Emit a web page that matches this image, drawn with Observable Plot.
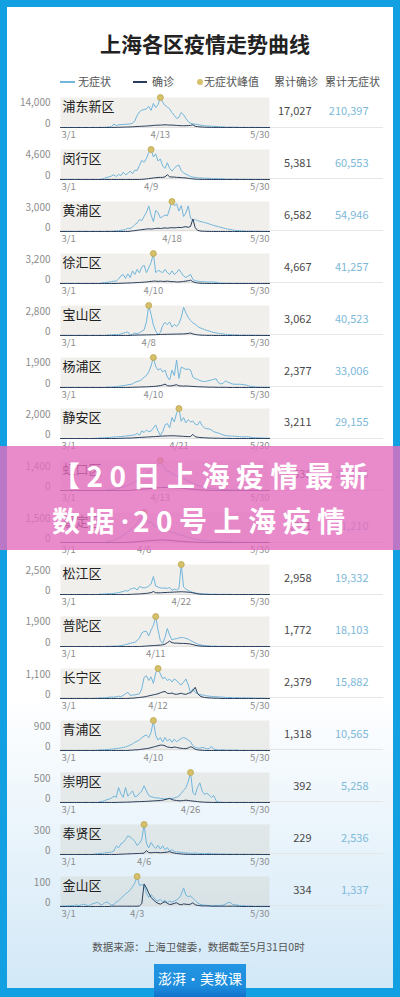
<!DOCTYPE html>
<html>
<head>
<meta charset="utf-8">
<script src="https://cdn.jsdelivr.net/npm/d3@7"></script>
<script src="https://cdn.jsdelivr.net/npm/@observablehq/plot@0.6"></script>
<style>
html,body{margin:0;padding:0;}
body{width:400px;height:997px;overflow:hidden;position:relative;background:#12a0e3;font-family:"Noto Sans CJK SC","Noto Sans",sans-serif;}
#inner{position:absolute;left:7px;top:7px;width:386px;height:981px;background:linear-gradient(180deg,#ffffff 0%,#ffffff 70%,#d2e8f7 100%);}
.a{position:absolute;white-space:nowrap;}
.title{left:0;width:410px;top:33px;text-align:center;font-size:21px;line-height:21px;font-weight:bold;color:#222;}
.lg{top:76px;font-size:11px;line-height:11px;color:#555;}
.sw{height:1.5px;top:81px;}
.sep{left:60px;width:323px;height:1px;background:#e6e6e6;}
.foot{left:0;width:397px;top:941px;text-align:center;font-size:10.5px;line-height:11px;color:#555;}
#logo{left:154px;top:964px;width:92px;height:33px;background:linear-gradient(180deg,#2496e2 0%,#1c8bdc 70%,#1173cc 100%);color:#fff;font-size:14px;line-height:14px;text-align:center;}
#banner{left:0;top:446px;width:400px;height:104px;background:rgba(227,109,190,0.8);}
.bt{left:52px;color:#fff;font-weight:bold;font-size:28px;line-height:28px;letter-spacing:6.5px;}
.dot{font-family:"Noto Sans","DejaVu Sans",sans-serif;letter-spacing:4px;}
</style>
</head>
<body>
<div id="inner"></div>
<div class="a title">上海各区疫情走势曲线</div>
<div class="a sw" style="left:60px;width:15px;background:#72b6dc;"></div>
<div class="a lg" style="left:78px;">无症状</div>
<div class="a sw" style="left:133px;width:14px;background:#283d5c;"></div>
<div class="a lg" style="left:152px;">确诊</div>
<div class="a" style="left:197px;top:79px;width:6px;height:6px;border-radius:50%;background:#d6c16a;"></div>
<div class="a lg" style="left:204px;">无症状峰值</div>
<div class="a lg" style="left:274px;">累计确诊</div>
<div class="a lg" style="left:325px;">累计无症状</div>
<div id="panels"></div>
<div class="a foot">数据来源：上海卫健委，数据截至5月31日0时</div>
<div class="a" id="logo"><div style="margin-top:7px;">澎湃·美数课</div></div>
<div class="a" id="banner"></div>
<div class="a bt" style="top:461px;">【20日上海疫情最新</div>
<div class="a bt" style="top:506px;">数据<span class="dot">·</span>20号上海疫情</div>
<script>
const districts = ["浦东新区","闵行区","黄浦区","徐汇区","宝山区","杨浦区","静安区","虹口区","嘉定区","松江区","普陀区","长宁区","青浦区","崇明区","奉贤区","金山区"];
const yLabels = [14000,4600,3000,3200,2800,1900,2000,1400,1500,2500,1900,1100,900,500,300,100];
const confTotals = [17027,5381,6582,4667,3062,2377,3211,2538,1711,2958,1772,2379,1318,392,229,334];
const asymTotals = [210397,60553,54946,41257,40523,33006,29155,26126,21210,19332,18103,15882,10565,5258,2536,1337];

const asymPudong = [0,0,0,0,0,0,0,0,0,0,0,0,0,0,0,20,30,40,60,90,
140,280,420,1700,850,1280,1420,1420,1560,1560,
1700,2000,3100,5700,7400,8200,8500,8800,10000,8100,
11400,9400,10800,14200,11900,10500,9700,8800,7100,5700,
4300,4800,7100,6000,4300,2800,2000,1700,1560,1420,
1140,1000,850,710,710,570,570,430,430,280,
280,140,140,140,140,140,
70,70,60,50,50,40,40,30,30,20,20,20,10,10,10];
const confPudong = [0,0,0,0,0,0,0,0,0,0,0,0,0,0,0,0,0,0,0,0,
10,10,20,30,60,100,
140,170,200,230,280,330,400,480,520,570,
640,710,780,850,990,1060,1100,1140,1200,1280,
1200,1140,1140,1060,990,920,850,850,850,920,
1000,1280,570,430,280,200,140,100,70,50,
40,30,30,20,20,20,10,10,10,10,10,0,0,0,0,0,0,0,0,0,0,0,0,0,0];

const asymMinhang = [0,0,0,0,0,0,0,0,0,0,0,0,0,0,0,0,0,0,
90,190,330,420,560,750,470,800,610,1130,
750,940,1320,890,1460,1410,2210,3010,2680,3290,
4230,4700,3530,4000,2910,3200,2120,1740,2630,1740,
1320,1740,2120,2260,1410,1030,850,660,470,380,
330,280,240,240,190,190,190,140,140,140,
140,140,90,
60,50,50,40,40,30,30,30,20,20,20,20,10,10,10,10,10,0,0,0];
const confMinhang = [0,0,0,0,0,0,0,0,0,0,0,0,0,0,0,0,0,0,0,0,0,0,0,0,0,0,0,0,0,0,0,0,0,0,0,
20,50,90,140,190,240,280,330,330,330,420,750,420,380,380,330,330,280,280,240,190,140,90,50,30,
20,10,10,10,0,0,0,0,0,0,0,0,0,0,0,0,0,0,0,0,0,0,0,0,0,0,0,0,0,0,0];

const asymHuangpu = [0,0,0,0,0,0,0,0,0,0,0,0,0,0,0,0,0,0,0,0,
10,10,20,30,60,90,
120,160,190,340,310,470,710,870,1240,1120,
1550,1980,2640,1710,1020,2170,1950,1400,1550,1710,
1610,2330,3100,2670,2850,2110,2670,1550,1920,2640,
1400,1120,1240,1120,1050,990,930,870,780,710,
620,560,500,430,370,310,250,220,160,120,
90,90,60,
40,30,30,30,20,20,10,10,10,0,0,0];
const confHuangpu = [0,0,0,0,0,0,0,0,0,0,0,0,0,0,0,0,0,0,0,0,0,0,0,0,0,0,0,0,0,0,
30,60,90,120,160,190,220,250,280,250,
280,310,340,310,340,370,340,370,400,370,
400,430,400,460,500,430,530,1300,400,120,
60,30,
20,10,10,0,0,0,0,0,0,0,0,0,0,0,0,0,0,0,0,0,0,0,0,0,0,0,0,0,0];

const asymXuhui = [0,0,0,0,0,0,0,0,0,0,0,0,0,0,0,0,0,0,
70,100,130,170,200,260,260,500,830,990,
560,1060,660,1390,990,1550,1160,1820,2010,1190,
1720,2310,3300,1190,1450,1320,1190,1550,1190,990,
1390,990,1190,1550,1190,830,660,830,990,460,
300,260,200,200,200,170,170,170,170,130,70,30,
30,20,20,20,10,10,10,10,10,0,0,0,0,0,0,0,0,0,0,0,0];
const confXuhui = [0,0,0,0,0,0,0,0,0,0,0,0,0,0,0,0,0,0,0,0,0,0,0,0,0,
10,20,30,40,50,60,70,90,100,120,
130,150,170,200,230,260,260,230,260,230,
230,260,230,200,200,170,170,200,230,260,
300,370,200,100,60,30,
20,10,10,0,0,0,0,0,0,0,0,0,0,0,0,0,0,0,0,0,0,0,0,0,0,0,0,0,0,0];

const asymBaoshan = [0,0,0,0,0,0,0,0,0,0,0,0,0,0,0,0,0,0,0,0,
30,60,60,90,90,90,150,230,290,350,
30,120,230,170,260,410,550,1310,2900,2030,
1020,440,90,290,960,1280,1040,1310,810,1070,
870,1160,1740,2730,2180,1740,1450,1220,1100,900,
750,670,580,490,440,350,290,260,200,170,
150,120,90,90,60,
60,50,40,40,30,30,30,20,20,20,10,10,10,10,0,0];
const confBaoshan = [0,0,0,0,0,0,0,0,0,0,0,0,0,0,0,0,0,0,0,0,0,0,0,0,0,0,0,0,0,0,
10,20,30,40,40,50,50,60,60,70,
70,80,90,100,110,110,120,120,130,130,
140,140,150,150,170,200,240,150,100,60,
40,30,20,10,
10,10,0,0,0,0,0,0,0,0,0,0,0,0,0,0,0,0,0,0,0,0,0,0,0,0,0];

const asymYangpu = [0,0,0,0,0,0,0,0,0,0,0,0,0,0,0,0,0,0,0,0,
20,20,40,40,60,80,100,120,140,180,
200,230,330,390,430,510,680,780,1010,1400,
1950,1370,1130,1230,1010,1130,680,490,1130,780,
1790,590,1330,1250,1170,1210,1130,680,570,530,
450,410,390,410,450,490,530,570,310,230,
270,430,350,290,230,210,210,210,200,180,
160,100,80,60,40,
20,20,20,10,10,10];
const confYangpu = [0,0,0,0,0,0,0,0,0,0,0,0,0,0,0,0,0,0,0,0,0,0,0,0,0,0,0,0,0,0,
10,10,20,20,30,30,40,40,50,60,
70,80,100,120,160,220,120,100,110,150,180,110,100,90,100,90,80,70,60,50,40,40,30,30,20,
20,20,10,10,10,10,10,0,0,0,0,0,0,0,0,0,0,0,0,0,0,0,0,0,0,0];

const asymJingan = [0,0,0,0,0,0,0,0,0,0,0,0,0,0,0,
20,20,40,40,60,60,80,80,110,110,130,130,150,170,190,210,230,250,
360,230,530,420,590,480,530,740,950,530,
210,480,950,1050,740,1470,1160,1790,2100,1200,
1470,1090,1320,1160,1220,1010,950,1200,900,740,
690,670,590,480,420,380,320,250,210,190,
170,170,150,150,130,110,110,130,110,80,60,60,
40,40,40,20,20,20];
const confJingan = [0,0,0,0,0,0,0,0,0,0,0,0,0,0,0,0,0,0,0,0,0,0,0,0,0,
10,10,20,20,30,30,40,50,60,70,
80,90,100,110,120,130,140,150,160,170,180,180,190,190,190,180,170,160,150,140,130,140,290,120,90,70,60,50,40,30,
30,20,20,20,10,10,10,10,0,0,0,0,0,0,0,0,0,0,0,0,0,0,0,0,0,0];

const asymHongkou = [0,0,0,0,0,0,0,0,0,0,0,0,0,0,0,0,0,0,0,0,
20,30,40,60,80,100,130,160,200,250,300,
350,420,500,580,650,720,800,900,1000,1100,
1050,1250,1450,1200,1050,950,900,820,760,700,
650,620,580,520,460,400,350,300,260,220,
190,160,140,120,100,90,80,70,60,50,
40,40,30,30,30,20,20,20,20,10,10,10,10,10,10,0,0,0,0,0];
const confHongkou = [0,0,0,0,0,0,0,0,0,0,0,0,0,0,0,0,0,0,0,0,0,0,0,0,0,0,0,0,0,0,
10,20,30,40,50,60,70,80,90,100,
110,120,130,140,150,150,150,140,140,130,130,120,110,100,90,80,70,60,50,40,
30,20,20,10,10,10,0,0,0,0,0,0,0,0,0,0,0,0,0,0,0,0,0,0,0,0,0,0,0,0,0];

const asymJiading = [0,0,0,0,0,0,0,0,0,0,0,0,0,0,0,0,0,0,0,0,
30,50,80,120,170,230,300,380,460,
550,650,760,880,1000,1150,1300,1550,1200,1000,
1100,900,800,850,700,600,650,750,550,500,
520,450,400,380,350,300,260,230,200,170,
150,130,110,100,90,80,70,60,50,40,40,
30,30,30,20,20,20,20,10,10,10,10,10,10,0,0,0,0,0,0,0,0];
const confJiading = [0,0,0,0,0,0,0,0,0,0,0,0,0,0,0,0,0,0,0,0,0,0,0,0,0,0,0,0,
10,10,20,20,30,40,50,60,70,80,
90,100,110,120,120,130,130,120,120,110,100,90,80,70,60,50,40,30,30,20,
20,10,10,10,0,0,0,0,0,0,0,0,0,0,0,0,0,0,0,0,0,0,0,0,0,0,0,0,0,0,0,0,0];

const asymSongjiang = [0,0,0,0,0,0,0,0,0,0,0,0,0,0,0,0,0,
30,30,50,50,80,80,100,130,160,210,
260,340,290,470,520,570,390,700,620,570,
620,730,910,1560,730,650,570,550,570,520,
620,360,470,390,520,2600,650,470,340,260,
180,130,100,80,50,50,30,
30,20,20,20,10,10,10,10,10,10,0,0,0,0,0,0,0,0,0,0,0,0,0,0,0,0,0];
const confSongjiang = [0,0,0,0,0,0,0,0,0,0,0,0,0,0,0,0,0,0,0,0,0,0,0,0,0,0,0,0,0,0,
10,20,30,40,50,60,80,100,130,160,
260,150,140,150,160,170,180,190,200,210,220,230,240,230,220,200,180,150,100,60,30,
20,10,10,0,0,0,0,0,0,0,0,0,0,0,0,0,0,0,0,0,0,0,0,0,0,0,0,0,0,0];

const asymPutuo = [0,0,0,0,0,0,0,0,0,0,0,0,0,0,0,0,0,0,0,0,10,10,20,20,30,
40,60,80,120,160,210,250,270,390,550,
880,980,980,680,1070,1370,1950,1070,390,200,
590,1170,740,430,490,510,550,590,570,530,
470,390,310,230,160,120,80,60,40,40,20,
20,20,10,10,10,10,10,0,0,0,0,0,0,0,0,0,0,0,0,0,0,0,0,0,0];
const confPutuo = [0,0,0,0,0,0,0,0,0,0,0,0,0,0,0,0,0,0,0,0,0,0,0,0,0,0,0,0,0,0,0,0,0,0,0,
10,20,30,40,50,60,70,80,90,110,
150,250,350,250,220,220,210,200,200,190,180,160,120,80,50,30,
20,10,10,0,0,0,0,0,0,0,0,0,0,0,0,0,0,0,0,0,0,0,0,0,0,0,0,0,0,0];

const asymChangning = [0,0,0,0,0,0,0,0,0,0,0,0,0,0,0,
10,10,20,20,30,30,50,60,50,70,
90,70,120,180,240,120,130,140,160,180,
370,810,870,690,830,580,980,1150,940,760,
810,690,740,630,750,690,580,520,630,750,
520,230,370,230,180,150,140,120,100,90,
80,70,70,60,60,50,
40,40,40,30,30,30,30,20,20,20,20,20,10,10,10,10,10,10,0,0];
const confChangning = [0,0,0,0,0,0,0,0,0,0,0,0,0,0,0,0,0,0,0,0,0,0,0,0,0,0,0,0,0,0,
10,10,20,30,40,50,60,80,100,120,
140,160,180,220,250,270,200,190,210,170,160,180,200,170,160,200,220,300,430,200,100,60,40,30,
20,20,10,10,10,0,0,0,0,0,0,0,0,0,0,0,0,0,0,0,0,0,0,0,0,0,0];

const asymQingpu = [0,0,0,0,0,0,0,0,0,0,0,0,0,0,0,0,
10,20,20,30,30,40,40,50,60,70,80,100,110,
140,170,210,260,290,340,400,460,490,410,
570,950,480,330,410,270,410,300,360,260,
360,280,330,380,410,380,330,280,150,100,
80,70,100,80,50,60,130,40,30,20,20,
20,10,10,10,10,10,10,0,0,0,0,0,0,0,0,0,0,0,0,0,0];
const confQingpu = [0,0,0,0,0,0,0,0,0,0,0,0,0,0,0,0,0,0,0,0,0,0,0,0,0,0,0,0,0,0,
10,10,20,20,30,40,50,60,70,90,
110,130,150,170,170,150,110,100,90,110,100,80,70,60,60,80,120,90,40,20,
10,10,0,0,0,0,0,0,0,0,0,0,0,0,0,0,0,0,0,0,0,0,0,0,0,0,0,0,0,0,0];

const asymChongming = [0,0,0,0,0,0,0,0,0,0,0,0,0,0,0,0,0,
10,20,30,50,60,80,110,
90,260,150,90,260,110,160,200,100,110,
160,200,290,200,120,100,90,80,80,70,
70,60,70,70,70,80,90,110,160,210,
260,360,520,170,130,260,340,200,140,160,
130,90,120,30,10,5,
0,0,0,0,0,0,0,0,0,0,0,0,0,0,0,0,0,0,0,0,0];
const confChongming = [0,0,0,0,0,0,0,0,0,0,0,0,0,0,0,0,0,0,0,0,0,0,0,0,0,
2,3,4,5,6,8,10,12,14,15,
16,18,20,22,25,28,30,32,35,40,
50,60,70,50,40,35,30,30,35,40,35,30,25,20,15,10,8,5,
3,2,1,0,0,0,0,0,0,0,0,0,0,0,0,0,0,0,0,0,0,0,0,0,0,0,0,0];

const asymFengxian = [0,0,0,0,0,0,0,0,0,0,0,0,0,0,0,
6,9,12,12,16,19,22,25,
37,87,71,109,124,155,192,180,161,136,
93,118,155,310,118,68,124,87,62,96,
56,90,50,71,37,50,31,28,25,22,
19,16,16,12,12,16,12,9,12,9,9,12,9,
6,6,6,5,5,4,4,3,3,3,3,2,2,2,2,1,1,1,1,1,0,0,0,0,0];
const confFengxian = [0,0,0,0,0,0,0,0,0,0,0,0,0,0,0,0,0,0,0,0,0,0,0,0,0,
2,3,4,5,6,7,8,9,10,11,
12,14,40,20,18,20,22,20,18,20,22,25,30,20,15,10,8,5,3,2,
1,1,0,0,0,0,0,0,0,0,0,0,0,0,0,0,0,0,0,0,0,0,0,0,0,0,0,0,0,0,0,0,0,0,0,0];

const asymJinshan = [1,2,2,3,3,3,
4,5,3,6,8,5,3,6,10,12,15,8,6,13,16,10,5,
7,16,20,28,37,44,50,58,69,82,
105,74,76,74,47,32,42,34,22,19,
25,17,21,14,19,15,19,23,29,42,
65,40,34,37,29,21,13,8,6,5,
4,3,3,3,4,3,4,5,8,13,
15,8,6,5,4,3,3,2,2,2,
1,1,1,1,1,1,1,1];
const confJinshan = [0,0,0,0,0,0,0,0,0,0,0,0,0,0,0,0,0,0,0,0,0,0,1,1,1,1,1,1,1,1,1,1,1,1,
2,10,79,65,47,32,23,16,11,8,13,17,11,7,8,11,13,8,6,9,8,7,8,13,6,4,3,
2,2,2,2,1,1,1,1,1,1,1,1,1,1,1,1,0,0,0,0,0,0,0,0,0,0,0,0,0,0];

const asymSeries = [asymPudong,asymMinhang,asymHuangpu,asymXuhui,asymBaoshan,asymYangpu,asymJingan,asymHongkou,asymJiading,asymSongjiang,asymPutuo,asymChangning,asymQingpu,asymChongming,asymFengxian,asymJinshan];
const confSeries = [confPudong,confMinhang,confHuangpu,confXuhui,confBaoshan,confYangpu,confJingan,confHongkou,confJiading,confSongjiang,confPutuo,confChangning,confQingpu,confChongming,confFengxian,confJinshan];

const FONT = '"Noto Sans CJK SC","Noto Sans",sans-serif';
const ASYM = "#72b6dc", CONF = "#283d5c";
const dates = d3.utcDay.range(new Date(Date.UTC(2022,2,1)), new Date(Date.UTC(2022,4,31)));
const fmtDate = d3.utcFormat("%-m/%-d");
const fmtNum = d3.format(",");
const host = document.getElementById("panels");
const bad = [];

districts.forEach((name, i) => {
  if (asymSeries[i].length !== dates.length || confSeries[i].length !== dates.length)
    bad.push(name + ":" + asymSeries[i].length + "/" + confSeries[i].length);
  const rows = dates.map((date, k) => ({date, asym: asymSeries[i][k] ?? 0, conf: confSeries[i][k] ?? 0}));
  const peak = d3.greatest(rows, d => d.asym);
  const top = 91 + i * 51.9;

  const sep = document.createElement("div");
  sep.className = "a sep";
  sep.style.top = (top + 35.5) + "px";
  host.appendChild(sep);

  const tick = {frameAnchor: "bottom", dy: 7, lineAnchor: "middle", fontSize: 9.5, fill: "#8c8c8c", text: d => fmtDate(d)};
  const svg = Plot.plot({
    width: 400, height: 52,
    marginLeft: 60, marginRight: 131, marginTop: 6, marginBottom: 16,
    x: {type: "utc", domain: [dates[0], dates[dates.length - 1]], axis: null},
    y: {domain: [0, peak.asym], axis: null},
    style: {background: "transparent", fontFamily: FONT, overflow: "visible"},
    marks: [
      Plot.frame({fill: "#c9c4b6", fillOpacity: 0.28, stroke: "none"}),
      Plot.lineY(rows, {x: "date", y: "asym", stroke: ASYM, strokeWidth: 1}),
      Plot.lineY(rows, {x: "date", y: "conf", stroke: CONF, strokeWidth: 1}),
      Plot.dot(rows, Plot.selectMaxY({x: "date", y: "asym", r: 3, fill: "#d6c16a", stroke: "#b59f48", strokeWidth: 0.7})),
      Plot.text([name], {frameAnchor: "top-left", dx: 2, dy: 9, textAnchor: "start", lineAnchor: "middle", fontSize: 13, fill: "#222"}),
      Plot.text([yLabels[i]], {y: d => d, frameAnchor: "left", dx: -10, dy: 5, textAnchor: "end", lineAnchor: "middle", fontSize: 10, fill: "#8c8c8c", text: d => fmtNum(d)}),
      Plot.text([0], {y: d => d, frameAnchor: "left", dx: -10, dy: -4, textAnchor: "end", lineAnchor: "middle", fontSize: 10, fill: "#8c8c8c", text: d => fmtNum(d)}),
      Plot.text([dates[0]], {x: d => d, textAnchor: "start", dx: 1, ...tick}),
      Plot.text([peak.date], {x: d => d, textAnchor: "middle", ...tick}),
      Plot.text([dates[dates.length - 1]], {x: d => d, textAnchor: "end", ...tick}),
      Plot.text([confTotals[i]], {frameAnchor: "right", dx: 42, dy: -1.5, textAnchor: "end", lineAnchor: "middle", fontSize: 11, fill: "#4a4a4a", text: d => fmtNum(d)}),
      Plot.text([asymTotals[i]], {frameAnchor: "right", dx: 99, dy: -1.5, textAnchor: "end", lineAnchor: "middle", fontSize: 11, fill: "#7db9d9", text: d => fmtNum(d)})
    ]
  });
  const wrap = document.createElement("div");
  wrap.className = "a";
  wrap.style.left = "0px";
  wrap.style.top = top + "px";
  wrap.style.width = "400px";
  wrap.style.height = "52px";
  wrap.appendChild(svg);
  host.appendChild(wrap);
});
if (bad.length) {
  const w = document.createElement("div");
  w.className = "a";
  w.style.cssText = "left:10px;top:10px;color:red;font-size:12px;z-index:99;background:#fff";
  w.textContent = "LEN " + bad.join(" ");
  document.body.appendChild(w);
}
</script>
</body>
</html>
